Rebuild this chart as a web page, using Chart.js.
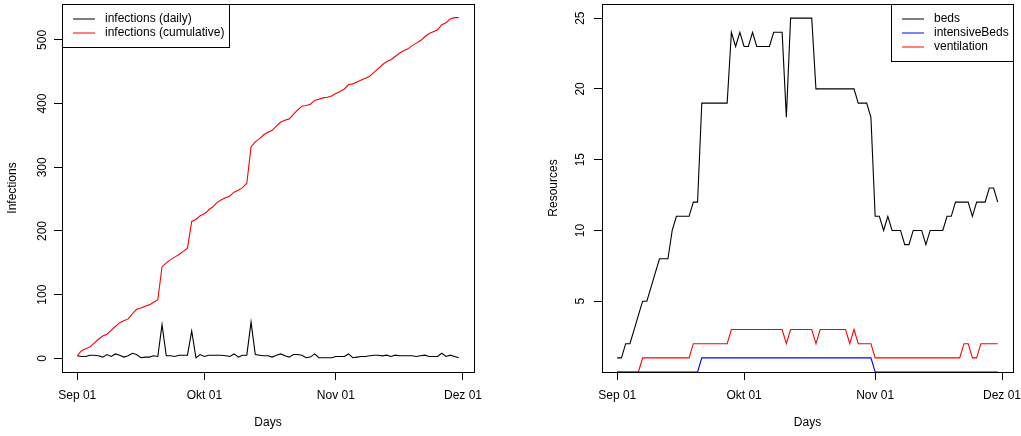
<!DOCTYPE html>
<html>
<head>
<meta charset="utf-8">
<script src="https://cdn.jsdelivr.net/npm/chart.js@4.4.1/dist/chart.umd.min.js"></script>
<style>
  html, body { margin: 0; padding: 0; background: #fff; }
  #wrap { position: relative; width: 1021px; height: 436px; }
  canvas { position: absolute; top: 0; }
</style>
</head>
<body>
<div id="wrap">
  <canvas id="infections" width="510" height="436" style="left:0"></canvas>
  <canvas id="resources" width="511" height="436" style="left:510px"></canvas>
</div>
<script>
// days since Sep 01
const days = Array.from({ length: 91 }, (_, i) => i);

const infectionsDaily = [
  4, 3, 3, 5, 5, 4, 2, 6, 3, 7, 5, 2, 4, 8, 6, 1, 2, 2, 4, 3,
  53, 4, 4, 3, 5, 5, 5, 43, 1, 6, 3, 5, 5, 5, 5, 4, 3, 7, 2, 5,
  5, 57, 6, 5, 4, 4, 2, 5, 7, 4, 2, 6, 6, 5, 1, 2, 7, 1, 1, 1,
  1, 3, 3, 3, 7, 1, 2, 3, 3, 4, 5, 5, 4, 5, 3, 5, 4, 4, 4, 4,
  3, 4, 5, 3, 3, 3, 8, 3, 5, 3, 1
];
const infectionsCumulative = [
  4, 12, 15, 18, 24, 30, 35, 38, 44, 50, 56, 59, 62, 70, 77, 79, 82, 84, 88, 92,
  144, 150, 155, 159, 163, 168, 173, 215, 218, 224, 227, 233, 238, 245, 249, 252, 255, 261, 264, 268,
  275, 332, 340, 345, 351, 355, 358, 365, 371, 374, 376, 383, 390, 396, 397, 399, 405, 407, 409, 410,
  412, 416, 419, 423, 430, 431, 434, 437, 440, 443, 449, 455, 461, 466, 469, 474, 479, 483, 486, 491,
  495, 499, 505, 510, 513, 516, 524, 527, 533, 535, 535
];

const beds = [
  1, 1, 2, 2, 3, 4, 5, 5, 6, 7, 8, 8, 8, 10, 11, 11, 11, 11, 12, 12,
  19, 19, 19, 19, 19, 19, 19, 24, 23, 24, 23, 23, 24, 23, 23, 23, 23, 24, 24, 24,
  18, 25, 25, 25, 25, 25, 25, 20, 20, 20, 20, 20, 20, 20, 20, 20, 20, 19, 19, 19,
  18, 11, 11, 10, 11, 10, 10, 10, 9, 9, 10, 10, 10, 9, 10, 10, 10, 10, 11, 11,
  12, 12, 12, 12, 11, 12, 12, 12, 13, 13, 12
];
const intensiveBeds = [
  0, 0, 0, 0, 0, 0, 0, 0, 0, 0, 0, 0, 0, 0, 0, 0, 0, 0, 0, 0,
  1, 1, 1, 1, 1, 1, 1, 1, 1, 1, 1, 1, 1, 1, 1, 1, 1, 1, 1, 1,
  1, 1, 1, 1, 1, 1, 1, 1, 1, 1, 1, 1, 1, 1, 1, 1, 1, 1, 1, 1,
  1, 0, 0, 0, 0, 0, 0, 0, 0, 0, 0, 0, 0, 0, 0, 0, 0, 0, 0, 0,
  0, 0, 0, 0, 0, 0, 0, 0, 0, 0, 0
];
const ventilation = [
  0, 0, 0, 0, 0, 0, 1, 1, 1, 1, 1, 1, 1, 1, 1, 1, 1, 1, 2, 2,
  2, 2, 2, 2, 2, 2, 2, 3, 3, 3, 3, 3, 3, 3, 3, 3, 3, 3, 3, 3,
  2, 3, 3, 3, 3, 3, 3, 2, 3, 3, 3, 3, 3, 3, 3, 2, 3, 2, 2, 2,
  2, 1, 1, 1, 1, 1, 1, 1, 1, 1, 1, 1, 1, 1, 1, 1, 1, 1, 1, 1,
  1, 1, 2, 2, 1, 1, 2, 2, 2, 2, 2
];

const dateTicks = [0, 30, 61, 91];
const dateLabels = ['Sep 01', 'Okt 01', 'Nov 01', 'Dez 01'];
const infectionTicks = [0, 100, 200, 300, 400, 500];
const resourceTicks = [5, 10, 15, 20, 25];

const font = { family: '"Liberation Sans", Arial, Helvetica, sans-serif', size: 12 };
Chart.defaults.font = font;
Chart.defaults.color = '#000';

// box around the plot region, like R's box()
const frame = {
  id: 'frame',
  afterDraw(chart) {
    const { ctx, chartArea: a } = chart;
    ctx.save();
    ctx.strokeStyle = '#000';
    ctx.lineWidth = 1;
    ctx.strokeRect(Math.round(a.left) + 0.5, Math.round(a.top) + 0.5,
      Math.round(a.right - a.left), Math.round(a.bottom - a.top));
    ctx.restore();
  }
};

// R-style legend box in a corner of the plot
const rLegend = {
  id: 'rLegend',
  afterDraw(chart, args, opts) {
    const { ctx, chartArea: a } = chart;
    const sets = chart.data.datasets;
    const h = 15 + 14 * sets.length;
    const x = opts.side === 'right' ? a.right - opts.width : a.left;
    const y = a.top;
    ctx.save();
    ctx.fillStyle = '#fff';
    ctx.fillRect(x, y, opts.width, h);
    ctx.strokeStyle = '#000';
    ctx.lineWidth = 1;
    ctx.strokeRect(Math.round(x) + 0.5, Math.round(y) + 0.5, opts.width, h);
    ctx.font = '12px "Liberation Sans", Arial, sans-serif';
    ctx.textBaseline = 'middle';
    sets.forEach((ds, i) => {
      const ry = y + 15 + 14 * i;
      ctx.strokeStyle = ds.borderColor;
      ctx.beginPath();
      ctx.moveTo(x + 11, ry);
      ctx.lineTo(x + 33, ry);
      ctx.stroke();
      ctx.fillStyle = '#000';
      ctx.fillText(ds.label, x + 43, ry);
    });
    ctx.restore();
  }
};

// keep the plot region where we put it
function noPad(s) {
  s.paddingTop = 0; s.paddingBottom = 0; s.paddingLeft = 0; s.paddingRight = 0;
}

function xAxis() {
  return {
    type: 'linear',
    min: -3.6,
    max: 93.6,
    afterBuildTicks: s => { s.ticks = dateTicks.map(v => ({ value: v })); },
    afterFit: s => { s.height = 64; noPad(s); },
    grid: { drawOnChartArea: false, drawTicks: true, tickLength: 8, tickColor: '#000', tickWidth: 1 },
    border: { display: false },
    ticks: {
      autoSkip: false, maxRotation: 0, padding: 8,
      callback: v => dateLabels[dateTicks.indexOf(v)]
    },
    title: { display: true, text: 'Days', padding: { top: 0, bottom: 6 } }
  };
}

function yAxis(min, max, tickVals, width, pad, title, titlePad) {
  return {
    min: min,
    max: max,
    afterBuildTicks: s => { s.ticks = tickVals.map(v => ({ value: v })); },
    afterFit: s => { s.width = width; noPad(s); },
    grid: { drawOnChartArea: false, drawTicks: true, tickLength: 8, tickColor: '#000', tickWidth: 1 },
    border: { display: false },
    ticks: { autoSkip: false, minRotation: 90, maxRotation: 90, crossAlign: 'center', padding: pad },
    title: { display: true, text: title, padding: { top: titlePad, bottom: 0 } }
  };
}

const lineDefaults = { borderWidth: 1.1, pointRadius: 0, tension: 0, fill: false };

new Chart(document.getElementById('infections'), {
  type: 'line',
  data: {
    labels: days,
    datasets: [
      { ...lineDefaults, label: 'infections (daily)', data: infectionsDaily, borderColor: '#000000', order: 1 },
      { ...lineDefaults, label: 'infections (cumulative)', data: infectionsCumulative, borderColor: '#ff0000', order: 0 }
    ]
  },
  options: {
    responsive: false,
    animation: false,
    layout: { padding: { left: 0, right: 36, top: 4, bottom: 0 } },
    scales: {
      x: xAxis(),
      y: yAxis(-21.4, 556.4, infectionTicks, 62, 1, 'Infections', 5)
    },
    plugins: {
      legend: { display: false },
      tooltip: { enabled: false },
      rLegend: { side: 'left', width: 167 }
    }
  },
  plugins: [frame, rLegend]
});

new Chart(document.getElementById('resources'), {
  type: 'line',
  data: {
    labels: days,
    datasets: [
      { ...lineDefaults, label: 'beds', data: beds, borderColor: '#000000', order: 2 },
      { ...lineDefaults, label: 'intensiveBeds', data: intensiveBeds, borderColor: '#0000ff', order: 1 },
      { ...lineDefaults, label: 'ventilation', data: ventilation, borderColor: '#ff0000', order: 0 }
    ]
  },
  options: {
    responsive: false,
    animation: false,
    layout: { padding: { left: 0, right: 8, top: 4, bottom: 0 } },
    scales: {
      x: xAxis(),
      y: yAxis(0, 26, resourceTicks, 92, 7, 'Resources', 36)
    },
    plugins: {
      legend: { display: false },
      tooltip: { enabled: false },
      rLegend: { side: 'right', width: 122 }
    }
  },
  plugins: [frame, rLegend]
});
</script>
</body>
</html>
